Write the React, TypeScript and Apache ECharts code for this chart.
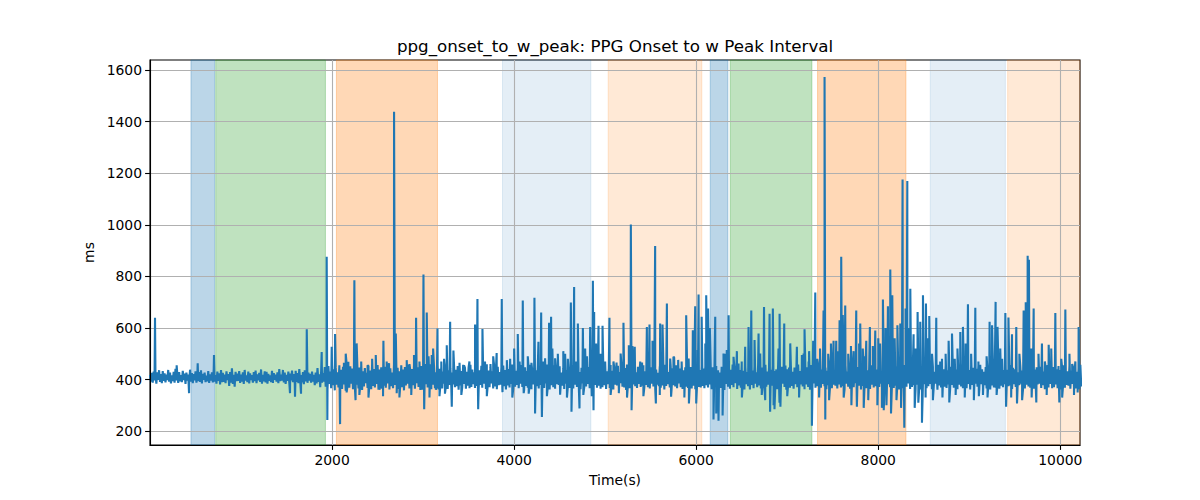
import { useEffect, useRef } from "react";
import * as echarts from "echarts";

const title = "ppg_onset_to_w_peak: PPG Onset to w Peak Interval";

// baseline samples, one every STEP seconds starting at 0
const STEP = 10;
const baselineQuiet = [
  418, 392, 426, 388, 431, 397, 415, 384, 428, 399, 436, 391, 421, 386, 433, 395,
  424, 389, 419, 398, 437, 392, 427, 385, 416, 394, 430, 388, 441, 396, 420, 387,
  429, 393, 417, 390, 434, 398, 423, 383, 427, 396, 419, 389, 438, 392, 425, 386,
  421, 397, 432, 388, 418, 394, 429, 391, 436, 385, 422, 399, 427, 390, 415, 393,
  433, 387, 420, 396, 428, 389, 440, 392, 417, 384, 431, 395, 424, 381, 437, 390,
  426, 391, 419, 386, 432, 398, 421, 375, 429, 388, 443, 383, 418, 372, 430, 394,
  423, 395, 433, 387, 419, 392, 428, 383, 437, 396, 416, 390, 431, 385, 424, 398,
  417, 388, 429, 394, 435, 386, 420, 397, 426, 391, 439, 384, 418, 393, 432, 389,
  430, 384, 422, 395, 416, 390, 434, 387, 425, 399, 419, 392, 428, 386, 440, 394,
  419, 396, 437, 389, 427, 383, 418, 395, 431, 388, 423, 397, 435, 390, 421, 385,
  434, 391, 425, 386, 440, 394, 417, 389, 429, 382, 436, 393, 420, 387, 427, 396,
  422, 388, 431, 392, 418, 378, 427, 385, 444, 391, 420, 370, 433, 388, 425, 392,
];
const baselineBusy = [
  448, 372, 436, 361, 452, 383, 431, 366, 457, 378, 440, 358, 446, 380, 428, 369,
  455, 374, 438, 363, 449, 381, 427, 357, 460, 376, 434, 368, 451, 384, 442, 362,
  437, 371, 458, 380, 429, 365, 447, 377, 453, 359, 432, 373, 444, 386, 426, 367,
  452, 379, 435, 362, 461, 375, 441, 369, 428, 383, 456, 360, 439, 372, 447, 364,
  430, 376, 449, 368, 438, 385, 455, 361, 443, 374, 427, 366, 458, 379, 436, 370,
  445, 363, 432, 381, 451, 370, 439, 358, 448, 377, 425, 384, 457, 365, 434, 373,
  441, 378, 456, 364, 429, 386, 447, 371, 435, 359, 452, 376, 438, 367, 460, 382,
  433, 369, 444, 375, 459, 362, 437, 380, 449, 366, 428, 374, 454, 361, 442, 377,
  450, 365, 431, 384, 446, 372, 458, 363, 436, 379, 443, 368, 427, 381, 455, 370,
  438, 374, 452, 360, 440, 377, 433, 369, 457, 383, 445, 364, 430, 376, 448, 366,
  457, 371, 439, 382, 428, 367, 451, 375, 442, 360, 436, 379, 453, 368, 431, 384,
  444, 363, 459, 376, 435, 370, 447, 385, 432, 365, 455, 373, 440, 362, 449, 378,
  429, 380, 446, 367, 454, 374, 437, 361, 450, 377, 441, 369, 426, 383, 458, 364,
  453, 372, 434, 379, 445, 366, 430, 384, 456, 371, 438, 360, 447, 375, 433, 368,
  440, 376, 457, 362, 431, 381, 449, 368, 436, 374, 452, 365, 443, 379, 428, 370,
  447, 367, 432, 385, 458, 373, 439, 361, 446, 378, 434, 370, 455, 364, 441, 382,
  435, 379, 451, 369, 427, 376, 444, 363, 459, 384, 437, 372, 430, 367, 448, 375,
  456, 365, 440, 380, 433, 371, 453, 377, 429, 362, 445, 385, 438, 369, 451, 373,
  431, 383, 448, 366, 442, 374, 436, 360, 454, 379, 427, 368, 447, 376, 439, 364,
  449, 370, 437, 378, 457, 363, 432, 382, 443, 367, 456, 375, 434, 361, 446, 380,
  438, 377, 453, 364, 429, 386, 450, 372, 437, 369, 444, 359, 458, 378, 431, 366,
  445, 362, 436, 381, 452, 374, 428, 367, 449, 383, 440, 371, 433, 376, 455, 368,
  432, 379, 459, 370, 441, 365, 447, 384, 430, 373, 453, 362, 439, 380, 426, 374,
  451, 368, 434, 377, 446, 361, 457, 375, 438, 382, 429, 369, 450, 364, 443, 378,
  440, 373, 455, 366, 431, 385, 442, 370, 452, 363, 436, 379, 447, 372, 458, 367,
  433, 380, 448, 365, 439, 376, 454, 362, 430, 383, 445, 371, 437, 369, 451, 375,
  442, 366, 451, 378, 433, 369, 456, 381, 438, 362, 447, 374, 429, 385, 452, 371,
  436, 380, 427, 367, 449, 375, 440, 359, 455, 383, 431, 372, 446, 364, 438, 379,
  458, 370, 444, 386, 430, 363, 451, 377, 437, 368, 459, 375, 434, 361, 448, 382,
  429, 374, 453, 361, 442, 379, 435, 366, 450, 384, 428, 370, 456, 377, 441, 365,
  447, 383, 436, 369, 457, 372, 431, 380, 445, 363, 438, 376, 452, 367, 433, 386,
  439, 362, 458, 378, 434, 366, 449, 384, 427, 371, 454, 360, 440, 379, 446, 368,
  454, 375, 430, 364, 446, 382, 439, 370, 458, 365, 433, 381, 444, 373, 429, 362,
  432, 381, 447, 371, 438, 360, 456, 376, 441, 385, 449, 368, 430, 374, 457, 369,
  450, 368, 439, 383, 429, 374, 445, 362, 434, 378, 457, 371, 448, 366, 436, 380,
  437, 376, 455, 365, 443, 381, 428, 369, 452, 374, 439, 363, 455, 384, 431, 372,
  446, 364, 433, 379, 459, 370, 442, 386, 430, 367, 448, 376, 437, 361, 453, 375,
  428, 382, 452, 366, 436, 377, 447, 363, 455, 380, 432, 369, 444, 374, 439, 364,
  455, 371, 441, 384, 431, 365, 453, 373, 438, 368, 446, 382, 429, 370, 458, 377,
  443, 367, 429, 376, 450, 384, 437, 361, 447, 375, 430, 366, 456, 379, 435, 372,
  431, 385, 448, 363, 439, 371, 458, 378, 433, 364, 451, 380, 440, 368, 446, 361,
  452, 373, 436, 382, 427, 366, 445, 374, 457, 383, 434, 362, 449, 376, 430, 384,
  438, 360, 457, 377, 444, 369, 432, 385, 440, 372, 455, 367, 436, 381, 452, 365,
  449, 379, 431, 368, 455, 376, 439, 362, 428, 380, 447, 373, 458, 366, 433, 378,
  434, 366, 450, 383, 437, 361, 454, 379, 445, 369, 431, 384, 441, 372, 456, 363,
  457, 382, 440, 370, 430, 378, 448, 365, 436, 384, 453, 361, 432, 377, 444, 369,
  441, 368, 433, 385, 452, 364, 429, 376, 459, 370, 437, 382, 450, 365, 438, 374,
  430, 377, 456, 363, 445, 382, 440, 371, 448, 367, 428, 378, 453, 384, 435, 362,
  453, 365, 437, 380, 432, 373, 457, 368, 434, 386, 449, 364, 439, 375, 447, 381,
  436, 384, 449, 367, 458, 378, 431, 362, 443, 374, 456, 369, 429, 383, 440, 366,
  448, 370, 427, 381, 440, 366, 452, 385, 437, 361, 445, 377, 455, 368, 432, 379,
  432, 376, 454, 364, 435, 383, 446, 370, 450, 365, 430, 380, 443, 362, 457, 373,
];

// large spikes and dips: [time (s), ms]
const peaks: [number, number][] = [
  [55, 639], [293, 455], [429, 347], [524, 463], [703, 495], [1538, 347], [1593, 333],
  [1659, 345], [1722, 595], [1886, 507], [1941, 876], [1948, 243], [1996, 527], [2033, 576],
  [2088, 227], [2130, 465], [2179, 469], [2245, 785], [2258, 320], [2270, 540], [2480, 495],
  [2520, 360], [2564, 550], [2626, 463], [2681, 1438], [2700, 578], [2710, 347], [2900, 495],
  [2923, 639], [2990, 360], [3004, 807], [3012, 285], [3040, 660], [3095, 495], [3140, 360],
  [3158, 598], [3260, 533], [3297, 624], [3315, 294], [3333, 512], [3509, 470], [3571, 613],
  [3597, 712], [3605, 285], [3652, 596], [3808, 503], [3864, 712], [3872, 351], [3956, 480],
  [4040, 576], [4095, 706], [4105, 347], [4223, 717], [4230, 268], [4267, 546], [4297, 660],
  [4305, 255], [4340, 482], [4384, 620], [4406, 643], [4450, 482], [4505, 341], [4560, 500],
  [4623, 699], [4630, 275], [4659, 759], [4700, 617], [4718, 288], [4755, 600], [4835, 604],
  [4865, 783], [4872, 281], [4879, 662], [4927, 608], [4971, 608], [5047, 639], [5091, 470],
  [5150, 347], [5201, 620], [5282, 1001], [5290, 281], [5300, 530], [5385, 470], [5458, 604],
  [5487, 613], [5520, 550], [5549, 918], [5557, 307], [5604, 617], [5630, 613], [5678, 695],
  [5758, 485], [5802, 476], [5890, 649], [5920, 307], [5963, 591], [5989, 684], [6000, 307],
  [6026, 730], [6060, 643], [6110, 727], [6130, 675], [6150, 600], [6190, 245], [6209, 643],
  [6220, 268], [6319, 500], [6356, 649], [6447, 510], [6500, 470], [6575, 604], [6605, 668],
  [6685, 578], [6720, 340], [6745, 681], [6806, 655], [6812, 275], [6842, 675], [6850, 300],
  [6916, 655], [6925, 294], [6967, 617], [7106, 527], [7161, 495], [7190, 595], [7240, 510],
  [7271, 221], [7285, 550], [7308, 737], [7399, 668], [7410, 1573], [7418, 245], [7509, 550],
  [7538, 550], [7575, 630], [7593, 876], [7610, 650], [7637, 687], [7729, 510], [7758, 668],
  [7765, 294], [7802, 617], [7868, 550], [7908, 604], [7967, 590], [8040, 290], [8051, 710],
  [8060, 281], [8106, 684], [8132, 827], [8140, 268], [8154, 727], [8242, 617], [8267, 1176],
  [8286, 213], [8300, 675], [8319, 1170], [8352, 752], [8388, 575], [8432, 662], [8461, 624],
  [8480, 232], [8491, 727], [8524, 695], [8560, 646], [8637, 639], [8773, 550], [8780, 311],
  [8810, 578], [8901, 584], [8930, 604], [8985, 692], [9066, 678], [9150, 340], [9223, 624],
  [9250, 610], [9289, 701], [9310, 604], [9396, 658], [9404, 294], [9430, 640], [9469, 575],
  [9516, 604], [9524, 307], [9597, 668], [9620, 700], [9641, 880], [9655, 864], [9707, 675],
  [9736, 311], [9798, 540], [9872, 535], [9945, 658], [9989, 311], [10055, 671], [10165, 470],
  [10201, 604],
];

// smaller excursions above and below the band: [time (s), ms]
const minorPeaks: [number, number][] = [
  [2150, 500], [2160, 350], [2300, 340], [2320, 470], [2390, 455], [2400, 330], [2440, 480],
  [2560, 335], [2600, 470], [2740, 330], [2760, 455], [2820, 475], [2850, 460], [2870, 340],
  [2960, 470], [3060, 490], [3070, 330], [3110, 520], [3180, 335], [3200, 470], [3230, 480],
  [3240, 345], [3400, 465], [3420, 340], [3450, 455], [3680, 470], [3700, 335], [3740, 460],
  [3770, 490], [3920, 475], [3980, 330], [4000, 520], [4060, 470], [4150, 490], [4160, 345],
  [4190, 465], [4320, 470], [4360, 335], [4420, 520], [4480, 500], [4540, 510], [4580, 330],
  [4590, 480], [4680, 470], [4760, 340], [4780, 520], [4800, 490], [4853, 335], [4900, 540],
  [4950, 500], [5000, 470], [5060, 340], [5125, 466], [5170, 501], [5240, 330], [5260, 533],
  [5325, 527], [5405, 466], [5420, 335], [5530, 514], [5600, 340], [5714, 481], [5724, 333],
  [5750, 488], [5840, 470], [5870, 330], [5917, 481], [6015, 514], [6100, 540], [6245, 240],
  [6290, 260], [6300, 501], [6336, 514], [6410, 488], [6465, 462], [6502, 330], [6538, 527],
  [6641, 553], [6703, 501], [6758, 320], [6860, 285], [6904, 520], [6915, 310], [7000, 335],
  [7033, 540], [7130, 330], [7180, 501], [7235, 470], [7330, 480], [7350, 330], [7360, 520],
  [7450, 500], [7460, 320], [7480, 540], [7560, 510], [7620, 330], [7670, 500], [7700, 530],
  [7705, 300], [7790, 540], [7830, 520], [7840, 290], [7850, 490], [7890, 320], [7940, 530],
  [7990, 300], [8000, 560], [8020, 540], [8080, 600], [8090, 300], [8180, 560], [8200, 320],
  [8210, 610], [8250, 290], [8330, 600], [8400, 290], [8410, 520], [8440, 310], [8520, 330],
  [8540, 560], [8590, 500], [8600, 320], [8680, 470], [8700, 480], [8705, 330], [8740, 500],
  [8840, 480], [8850, 340], [8870, 520], [8950, 330], [8960, 540], [9020, 500], [9050, 320],
  [9100, 470], [9105, 335], [9190, 490], [9200, 330], [9300, 340], [9340, 520], [9360, 480],
  [9460, 330], [9550, 500], [9580, 320], [9680, 520], [9685, 330], [9760, 500], [9830, 470],
  [9850, 340], [9900, 520], [10010, 480], [10020, 330], [10100, 500], [10130, 460],
  [10150, 340], [10190, 350],
];

// shaded phases: [start, end, colour]
const spans: [number, number, string][] = [
  [450, 710, "rgba(31,119,180,0.3)"],
  [722, 1927, "rgba(44,160,44,0.3)"],
  [2048, 3158, "rgba(255,127,14,0.3)"],
  [3872, 4843, "rgba(31,119,180,0.12)"],
  [5033, 6062, "rgba(255,127,14,0.17)"],
  [6154, 6348, "rgba(31,119,180,0.3)"],
  [6374, 7271, "rgba(44,160,44,0.3)"],
  [7333, 8304, "rgba(255,127,14,0.3)"],
  [8571, 9396, "rgba(31,119,180,0.12)"],
  [9421, 10216, "rgba(255,127,14,0.17)"],
];

const xTicks = [2000, 4000, 6000, 8000, 10000];
const yTicks = [200, 400, 600, 800, 1000, 1200, 1400, 1600];

const FONT = "DejaVu Sans";

export default function App() {
  const ref = useRef<HTMLDivElement | null>(null);

  useEffect(() => {
    document.body.style.margin = "0";
    if (!ref.current) return;
    const chart = echarts.init(ref.current, null, { renderer: "svg" });

    const points: [number, number][] = baselineQuiet
      .concat(baselineBusy)
      .map((v, i) => [i * STEP, v]);
    const series = points
      .concat(peaks, minorPeaks)
      .sort((a, b) => a[0] - b[0]);

    const axisCommon = {
      axisLine: { show: true, lineStyle: { color: "#000", width: 1.1 } },
      axisTick: { show: true, length: 4.9, inside: false, lineStyle: { color: "#000", width: 1.1 } },
      splitLine: { show: false },
      nameTextStyle: { color: "#000", fontSize: 13.9, fontFamily: FONT },
    };
    const labelCommon = {
      color: "#000",
      fontSize: 13.9,
      fontFamily: FONT,
      margin: 8,
      formatter: (v: number) => String(v),
    };

    chart.setOption({
      animation: false,
      grid: {
        left: 150,
        right: 120,
        top: 60,
        bottom: 55,
        show: true,
        borderColor: "#000",
        borderWidth: 1.1,
      },
      graphic: [
        {
          type: "text",
          x: 615,
          y: 46,
          style: {
            text: title,
            fontSize: 16.7,
            fontFamily: FONT,
            fill: "#000",
            textAlign: "center",
            textVerticalAlign: "middle",
          },
        },
      ],
      xAxis: {
        type: "value",
        min: 0,
        max: 10216,
        name: "Time(s)",
        nameLocation: "middle",
        nameGap: 28,
        z: 3,
        ...axisCommon,
        axisTick: { ...axisCommon.axisTick, customValues: xTicks },
        axisLabel: { ...labelCommon, customValues: xTicks },
      },
      yAxis: {
        type: "value",
        min: 146,
        max: 1639,
        name: "ms",
        nameLocation: "middle",
        nameGap: 42,
        z: 3,
        ...axisCommon,
        axisTick: { ...axisCommon.axisTick, customValues: yTicks },
        axisLabel: { ...labelCommon, customValues: yTicks },
      },
      series: [
        {
          type: "line",
          data: [],
          z: 1,
          silent: true,
          markArea: {
            silent: true,
            z: 1,
            data: spans.map(([a, b, c]) => [
              { xAxis: a, itemStyle: { color: c, borderColor: c, borderWidth: 1 } },
              { xAxis: b },
            ]),
          },
        },
        {
          type: "line",
          data: [],
          z: 1.5,
          silent: true,
          markLine: {
            silent: true,
            z: 1.5,
            symbol: "none",
            label: { show: false },
            lineStyle: { color: "#b0b0b0", width: 1.1, type: "solid" },
            data: [
              ...xTicks.map((x) => ({ xAxis: x })),
              ...yTicks.map((y) => ({ yAxis: y })),
            ],
          },
        },
        {
          type: "line",
          data: series,
          z: 2,
          showSymbol: false,
          symbol: "none",
          lineStyle: { color: "#1f77b4", width: 2.1 },
          itemStyle: { color: "#1f77b4" },
        },
      ],
    });

    return () => chart.dispose();
  }, []);

  return <div ref={ref} style={{ width: 1200, height: 500 }} />;
}
